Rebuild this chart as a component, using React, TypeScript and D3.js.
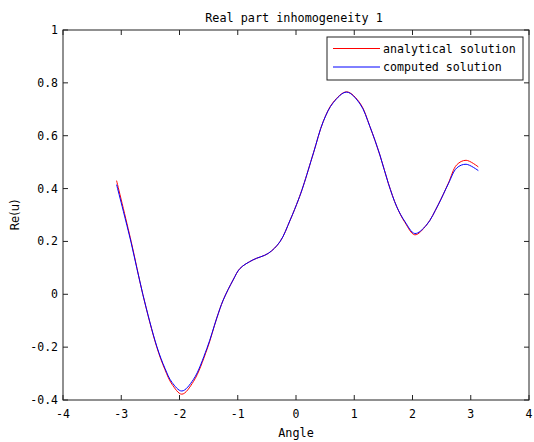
import React from "react";
import * as d3 from "d3";

const angle = [-3.08, -2.83, -2.63, -2.39, -2.25, -2.13, -1.96, -1.76, -1.53, -1.36, -1.25, -1.08, -0.96, -0.74, -0.475, -0.275, -0.10, 0.04, 0.125, 0.30, 0.47, 0.64, 0.87, 1.10, 1.27, 1.44, 1.585, 1.73, 1.87, 2.04, 2.24, 2.44, 2.615, 2.76, 2.92, 3.13];
const analytical = [0.43, 0.2, 0.0, -0.2, -0.285, -0.34, -0.378, -0.33, -0.21, -0.09, -0.022, 0.054, 0.098, 0.13, 0.155, 0.199, 0.281, 0.357, 0.41, 0.535, 0.655, 0.727, 0.766, 0.723, 0.634, 0.527, 0.42, 0.331, 0.272, 0.225, 0.262, 0.338, 0.42, 0.49, 0.507, 0.482];
const computed = [0.415, 0.195, 0.0, -0.197, -0.28, -0.333, -0.366, -0.322, -0.205, -0.09, -0.022, 0.054, 0.098, 0.13, 0.155, 0.199, 0.281, 0.357, 0.41, 0.535, 0.655, 0.725, 0.765, 0.72, 0.634, 0.527, 0.42, 0.331, 0.275, 0.23, 0.262, 0.338, 0.418, 0.478, 0.492, 0.468];

const xTicks = [-4, -3, -2, -1, 0, 1, 2, 3, 4];
const yTicks = [-0.4, -0.2, 0, 0.2, 0.4, 0.6, 0.8, 1];
const seriesNames = ["analytical solution", "computed solution"];
const seriesColors = ["#ff0000", "#0000ff"];

const W = 534, H = 442;
const L = 63, R = 529, T = 30, B = 400;
const mono = "'DejaVu Sans Mono', monospace";

export default function App() {
  const x = d3.scaleLinear().domain([-4, 4]).range([L, R]);
  const y = d3.scaleLinear().domain([-0.4, 1]).range([B, T]);
  const line = d3
    .line<number>()
    .x((_, i) => x(angle[i]))
    .y((d) => y(d))
    .curve(d3.curveCatmullRom.alpha(0.5));
  const fmt = (v: number) => (v === 0 ? "0" : String(v));
  const tickLen = 5;
  const axisColor = "#222";
  return (
    <svg width={W} height={H} style={{ position: "absolute", left: 0, top: 0, background: "#fff" }}>
      <rect x={0} y={0} width={W} height={H} fill="#fff" />
      <text x={(L + R) / 2 - 2} y={22} textAnchor="middle" fontFamily={mono} fontSize={11.8} fill="#000">
        Real part inhomogeneity 1
      </text>
      <path d={line(analytical) || ""} fill="none" stroke={seriesColors[0]} strokeWidth={1} />
      <path d={line(computed) || ""} fill="none" stroke={seriesColors[1]} strokeWidth={1} />
      <rect x={L} y={T} width={R - L} height={B - T} fill="none" stroke={axisColor} strokeWidth={1} />
      {xTicks.map((t) => (
        <g key={"x" + t}>
          <line x1={x(t)} x2={x(t)} y1={B} y2={B - tickLen} stroke={axisColor} />
          <line x1={x(t)} x2={x(t)} y1={T} y2={T + tickLen} stroke={axisColor} />
          <text x={x(t)} y={418} textAnchor="middle" fontFamily={mono} fontSize={11.5} fill="#000">
            {fmt(t)}
          </text>
        </g>
      ))}
      {yTicks.map((t) => (
        <g key={"y" + t}>
          <line x1={L} x2={L + tickLen} y1={y(t)} y2={y(t)} stroke={axisColor} />
          <line x1={R} x2={R - tickLen} y1={y(t)} y2={y(t)} stroke={axisColor} />
          <text x={58} y={y(t) + 4} textAnchor="end" fontFamily={mono} fontSize={11.5} fill="#000">
            {fmt(+t.toFixed(1))}
          </text>
        </g>
      ))}
      <text x={(L + R) / 2} y={437} textAnchor="middle" fontFamily={mono} fontSize={11.8} fill="#000">
        Angle
      </text>
      <text
        transform={`translate(19,${(T + B) / 2}) rotate(-90)`}
        textAnchor="middle"
        fontFamily="'DejaVu Sans', sans-serif"
        fontSize={11.5}
        fill="#000"
      >
        Re(u)
      </text>
      <rect x={327} y={37} width={196} height={43} fill="#fff" stroke={axisColor} strokeWidth={1} />
      {seriesNames.map((n, i) => (
        <g key={n}>
          <line x1={333} x2={380} y1={48.5 + i * 18.5} y2={48.5 + i * 18.5} stroke={seriesColors[i]} strokeWidth={1} />
          <text x={383} y={52.5 + i * 18.5} fontFamily={mono} fontSize={11.6} fill="#000">
            {n}
          </text>
        </g>
      ))}
    </svg>
  );
}
